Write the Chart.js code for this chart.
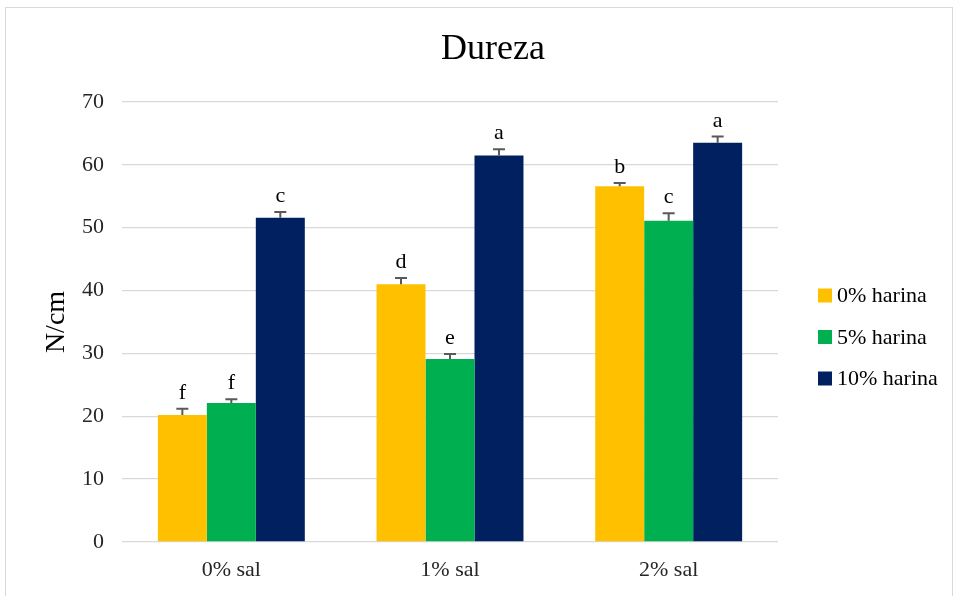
<!DOCTYPE html>
<html>
<head>
<meta charset="utf-8">
<script src="https://cdn.jsdelivr.net/npm/chart.js@4/dist/chart.umd.min.js"></script>
<style>
  html, body { margin: 0; padding: 0; background: #fff; }
  #frame { position: absolute; left: 5px; top: 7px; width: 948px; height: 600px; border: 1px solid #d9d9d9; box-sizing: border-box; }
  #wrap { position: absolute; left: 0; top: 0; width: 959px; height: 596px; }
</style>
</head>
<body>
<div id="frame"></div>
<div id="wrap"><canvas id="c"></canvas></div>
<script>
const chartTitle = 'Dureza';
const categories = ['0% sal', '1% sal', '2% sal'];
const seriesNames = ['0% harina', '5% harina', '10% harina'];
const harina0 = [20.2, 41.0, 56.6];
const harina5 = [22.1, 29.1, 51.1];
const harina10 = [51.6, 61.5, 63.5];
const err0 = [1.0, 1.0, 0.5];
const err5 = [0.6, 0.8, 1.2];
const err10 = [0.9, 1.0, 1.0];
const letters0 = ['f', 'd', 'b'];
const letters5 = ['f', 'e', 'c'];
const letters10 = ['c', 'a', 'a'];
const colors = ['#ffc000', '#00b050', '#002060'];

const serif = '"Liberation Serif", "DejaVu Serif", serif';

// Error whiskers plus significance letters, placed through the value scale
const errorAndLetters = {
  id: 'errorAndLetters',
  afterDatasetsDraw(chart) {
    const ctx = chart.ctx;
    const y = chart.scales.y;
    chart.data.datasets.forEach((ds, di) => {
      const meta = chart.getDatasetMeta(di);
      meta.data.forEach((bar, i) => {
        const v = ds.data[i];
        const e = ds.errors[i];
        const yTop = y.getPixelForValue(v + e);
        const yVal = y.getPixelForValue(v);
        ctx.save();
        ctx.strokeStyle = '#595959';
        ctx.lineWidth = 2;
        ctx.beginPath();
        ctx.moveTo(bar.x, yVal);
        ctx.lineTo(bar.x, yTop);
        ctx.moveTo(bar.x - 6, yTop);
        ctx.lineTo(bar.x + 6, yTop);
        ctx.stroke();
        ctx.fillStyle = '#000';
        ctx.font = '22px ' + serif;
        ctx.textAlign = 'center';
        ctx.textBaseline = 'alphabetic';
        ctx.fillText(ds.letters[i], bar.x, yTop - 10);
        ctx.restore();
      });
    });
  }
};

// Title across the whole frame and a legend to the right of the plot
const titleAndLegend = {
  id: 'titleAndLegend',
  afterDraw(chart) {
    const ctx = chart.ctx;
    const area = chart.chartArea;
    ctx.save();
    ctx.fillStyle = '#000';
    ctx.font = '36px ' + serif;
    ctx.textAlign = 'center';
    ctx.textBaseline = 'alphabetic';
    ctx.fillText(chartTitle, 493, 59);

    const x0 = area.right + 40;
    const step = 41.5;
    const yMid = 337;
    const n = chart.data.datasets.length;
    ctx.font = '22px ' + serif;
    ctx.textBaseline = 'middle';
    ctx.textAlign = 'left';
    chart.data.datasets.forEach((ds, i) => {
      const yc = yMid + (i - (n - 1) / 2) * step;
      ctx.fillStyle = ds.backgroundColor;
      ctx.fillRect(x0, yc - 7, 14, 14);
      ctx.fillStyle = '#000';
      ctx.fillText(ds.label, x0 + 19, yc + 1);
    });
    ctx.restore();
  }
};

new Chart(document.getElementById('c'), {
  type: 'bar',
  data: {
    labels: categories,
    datasets: [
      { label: seriesNames[0], data: harina0, errors: err0, letters: letters0, backgroundColor: colors[0] },
      { label: seriesNames[1], data: harina5, errors: err5, letters: letters5, backgroundColor: colors[1] },
      { label: seriesNames[2], data: harina10, errors: err10, letters: letters10, backgroundColor: colors[2] }
    ]
  },
  options: {
    responsive: true,
    maintainAspectRatio: false,
    animation: false,
    datasets: { bar: { barPercentage: 1.0, categoryPercentage: 0.672 } },
    layout: { autoPadding: false, padding: { left: 36, right: 181, top: 102, bottom: 12 } },
    plugins: {
      title: { display: false },
      legend: { display: false },
      tooltip: { enabled: false }
    },
    scales: {
      x: {
        grid: { display: false, drawTicks: false },
        border: { display: false },
        ticks: { color: '#262626', font: { family: serif, size: 22 }, padding: 15, maxRotation: 0 },
        afterFit(scale) { scale.height = 42; }
      },
      y: {
        min: 0,
        max: 70,
        ticks: { stepSize: 10, color: '#262626', font: { family: serif, size: 22 }, padding: 18 },
        grid: { color: '#d9d9d9', lineWidth: 1.3, drawTicks: false },
        border: { display: false },
        title: { display: true, text: 'N/cm', color: '#000', font: { family: serif, size: 28 }, padding: 4 },
        afterFit(scale) { scale.width = 86; }
      }
    }
  },
  plugins: [errorAndLetters, titleAndLegend]
});
</script>
</body>
</html>
